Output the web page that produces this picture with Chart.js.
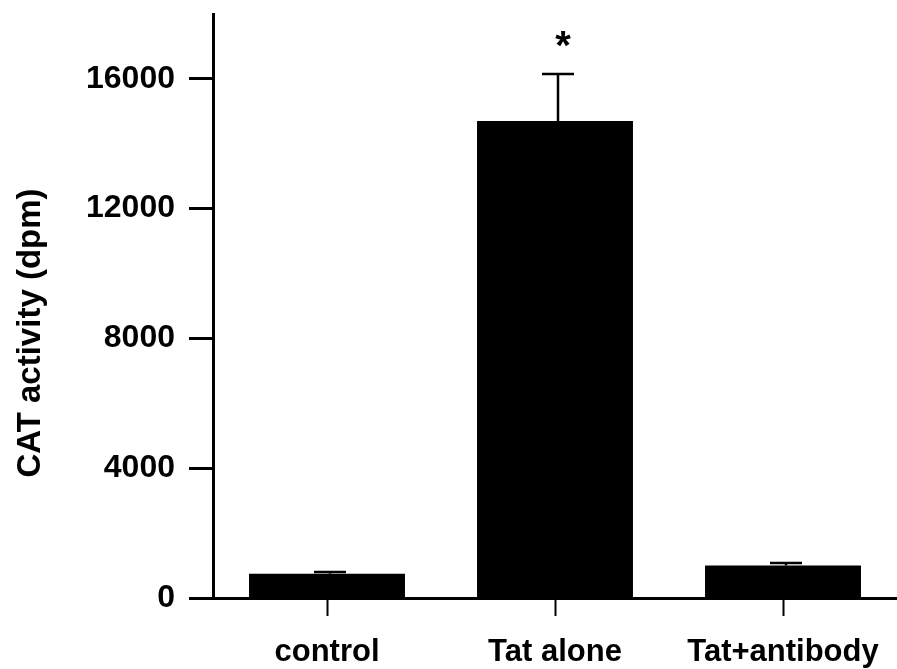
<!DOCTYPE html>
<html>
<head>
<meta charset="utf-8">
<script src="https://cdn.jsdelivr.net/npm/chart.js@4/dist/chart.umd.min.js"></script>
<style>
  html, body { margin: 0; padding: 0; background: #fff; }
  #wrap { width: 897px; height: 669px; }
</style>
</head>
<body>
<div id="wrap"><canvas id="catChart" width="897" height="669"></canvas></div>
<script>
// Dados do gráfico
const categorias = ['control', 'Tat alone', 'Tat+antibody'];
const atividade = [750, 14700, 1000];
const erroSuperior = [800, 16150, 1080];
const marcadores = ['', '*', ''];
const ticksY = [0, 4000, 8000, 12000, 16000];
const tituloY = 'CAT activity (dpm)';

const FONTE = '"Liberation Sans", Arial, Helvetica, sans-serif';

// Barras de erro, asterisco e título do eixo Y
const extras = {
    id: 'extras',
    afterDatasetsDraw(chart) {
        const ctx = chart.ctx;
        const x = chart.scales.x;
        const y = chart.scales.y;
        ctx.save();
        ctx.strokeStyle = '#000';
        ctx.fillStyle = '#000';
        ctx.lineWidth = 2.5;
        erroSuperior.forEach((valor, i) => {
            const cx = x.getPixelForValue(i) + 3;
            const yBar = y.getPixelForValue(atividade[i]);
            const yTop = y.getPixelForValue(valor);
            if (yBar - yTop > 1) {
                ctx.beginPath();
                ctx.moveTo(cx, yBar);
                ctx.lineTo(cx, yTop);
                ctx.moveTo(cx - 16, yTop);
                ctx.lineTo(cx + 16, yTop);
                ctx.stroke();
            }
            if (marcadores[i]) {
                ctx.font = 'bold 40px ' + FONTE;
                ctx.textAlign = 'center';
                ctx.textBaseline = 'top';
                ctx.fillText(marcadores[i], cx + 5, yTop - 46);
            }
        });
        // Título do eixo Y
        ctx.translate(31, 333);
        ctx.rotate(-Math.PI / 2);
        ctx.font = 'bold 33px ' + FONTE;
        ctx.textAlign = 'center';
        ctx.textBaseline = 'middle';
        ctx.fillText(tituloY, 0, 0);
        ctx.restore();
    }
};

new Chart(document.getElementById('catChart'), {
    type: 'bar',
    data: {
        labels: categorias,
        datasets: [{
            data: atividade,
            backgroundColor: '#000',
            borderWidth: 0,
            barPercentage: 0.684,
            categoryPercentage: 1
        }]
    },
    options: {
        responsive: false,
        animation: false,
        layout: { padding: { top: 14, right: 0, left: 0, bottom: 0 } },
        plugins: {
            legend: { display: false },
            tooltip: { enabled: false }
        },
        scales: {
            x: {
                afterFit(scale) {
                    scale.height = 71;
                    scale.paddingLeft = 0;
                    scale.paddingRight = 0;
                },
                grid: {
                    offset: false,
                    drawOnChartArea: false,
                    drawTicks: true,
                    tickLength: 18,
                    tickWidth: 2,
                    color: '#000'
                },
                border: { display: true, color: '#000', width: 3 },
                ticks: {
                    color: '#000',
                    padding: 18,
                    font: { family: FONTE, size: 31, weight: 'bold' }
                }
            },
            y: {
                min: 0,
                max: 18000,
                afterFit(scale) {
                    scale.width = 213;
                    scale.paddingTop = 0;
                    scale.paddingBottom = 0;
                },
                afterBuildTicks(scale) {
                    scale.ticks = ticksY.map(v => ({ value: v }));
                },
                grid: {
                    drawOnChartArea: false,
                    drawTicks: true,
                    tickLength: 24,
                    tickWidth: 3,
                    color: '#000'
                },
                border: { display: true, color: '#000', width: 3 },
                ticks: {
                    color: '#000',
                    padding: 14,
                    callback: v => String(v),
                    font: { family: FONTE, size: 32, weight: 'bold' }
                }
            }
        }
    },
    plugins: [extras]
});
</script>
</body>
</html>
